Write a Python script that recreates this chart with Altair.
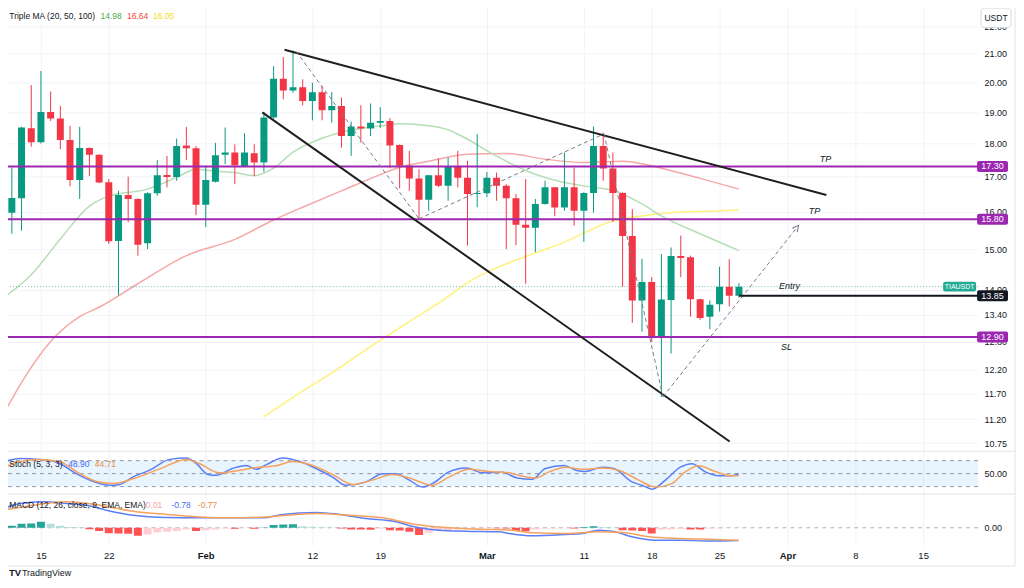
import altair as alt
import pandas as pd

# ---------------- daily candles TIA/USDT (1D), from 2024-01-11 ----------------
candle_start = "2024-01-11"
opens = [16.31, 15.98, 16.38, 18.48, 18.04, 19.00, 18.79, 18.11, 16.90, 17.86, 17.65, 16.84, 15.22, 16.47, 16.36, 15.16, 16.52, 17.05, 16.99, 17.94, 17.85,
         16.20, 16.85, 17.65, 17.72, 17.30, 17.70, 17.42, 18.82, 20.12, 19.72, 19.83, 19.36, 19.66, 19.06, 19.20, 18.23, 18.53, 18.47, 18.65, 18.71, 17.95, 17.32, 16.95, 16.34, 17.04, 16.74, 17.29, 16.97, 16.50,
         16.52, 16.97, 16.74, 16.38, 15.65, 15.57, 16.22, 16.69, 16.12, 16.69, 16.03, 16.53, 17.92, 17.24, 16.53, 15.35, 13.74, 14.18, 12.88, 13.75, 14.83, 14.80, 13.77, 13.36, 13.65, 14.07, 13.85]
highs = [16.39, 17.27, 18.52, 19.90, 20.39, 19.68, 19.20, 18.55, 18.52, 17.88, 17.66, 16.93, 16.59, 17.00, 16.38, 16.55, 17.49, 17.62, 18.15, 18.52, 17.92,
         17.32, 18.02, 18.50, 17.97, 18.32, 17.97, 19.00, 20.56, 20.88, 21.12, 20.10, 19.98, 19.87, 19.66, 19.48, 18.69, 19.22, 19.28, 19.16, 18.80, 17.97, 17.77, 17.22, 17.05, 17.54, 17.57, 17.77, 17.47, 18.29,
         17.14, 17.12, 16.78, 16.50, 16.93, 16.36, 16.88, 16.70, 17.72, 17.27, 16.55, 18.53, 18.34, 17.72, 16.55, 16.08, 14.76, 14.30, 14.88, 15.05, 15.36, 14.84, 13.78, 13.74, 14.56, 14.75, 14.16]
lows = [15.91, 15.41, 15.49, 17.90, 18.00, 18.71, 17.82, 16.72, 16.36, 17.02, 16.81, 15.14, 13.86, 15.72, 14.84, 15.01, 16.45, 16.69, 16.88, 17.50, 15.91,
        15.59, 16.83, 17.37, 16.78, 17.28, 17.02, 17.14, 18.78, 19.42, 19.64, 19.22, 18.73, 18.73, 18.66, 17.87, 17.62, 18.03, 18.23, 18.48, 17.25, 16.66, 16.59, 15.81, 16.03, 16.70, 16.31, 16.69, 15.10, 16.13,
        16.41, 16.31, 15.01, 15.11, 14.14, 14.93, 16.20, 15.88, 16.03, 15.63, 15.20, 15.98, 16.88, 15.72, 14.07, 13.22, 13.02, 12.79, 11.64, 12.54, 14.30, 13.36, 13.29, 13.08, 13.48, 13.60, 13.81]
closes = [15.98, 16.39, 18.50, 18.04, 19.00, 18.79, 18.11, 16.90, 17.86, 17.65, 16.83, 15.21, 16.47, 16.36, 15.12, 16.52, 17.04, 16.99, 17.92, 17.85, 16.20,
          16.90, 17.64, 17.72, 17.34, 17.72, 17.42, 18.82, 20.12, 19.72, 19.83, 19.36, 19.66, 19.06, 19.20, 18.23, 18.53, 18.47, 18.65, 18.71, 17.94, 17.32, 16.95, 16.34, 17.04, 16.74, 17.29, 16.97, 16.50, 16.53,
          16.97, 16.74, 16.38, 15.65, 15.57, 16.22, 16.69, 16.12, 16.69, 16.03, 16.53, 17.92, 17.24, 16.53, 15.35, 13.74, 14.18, 12.88, 13.76, 14.83, 14.78, 13.77, 13.33, 13.64, 14.07, 13.85, 14.07]

# ---------------- Triple MA (20, 50, 100) ----------------
ma20_dates = ["2024-01-11", "2024-01-14", "2024-01-17", "2024-01-20", "2024-01-22", "2024-01-26", "2024-01-29", "2024-01-31", "2024-02-02", "2024-02-04",
              "2024-02-06", "2024-02-08", "2024-02-10", "2024-02-13", "2024-02-15", "2024-02-19", "2024-02-21", "2024-02-24", "2024-02-26", "2024-02-28",
              "2024-03-02", "2024-03-06", "2024-03-09", "2024-03-12", "2024-03-14", "2024-03-17", "2024-03-19", "2024-03-23", "2024-03-27"]
ma20_vals = [13.78, 14.36, 15.27, 16.16, 16.44, 16.64, 16.98, 17.22, 17.16, 17.12, 17.03, 17.25, 17.73, 18.16, 18.35, 18.55, 18.62, 18.56, 18.43, 18.13,
             17.61, 17.07, 16.83, 16.69, 16.61, 16.22, 15.89, 15.41, 14.97]
ma50_dates = ["2024-01-11", "2024-01-13", "2024-01-16", "2024-01-19", "2024-01-21", "2024-01-25", "2024-01-30", "2024-02-04", "2024-02-08", "2024-02-11",
              "2024-02-15", "2024-02-19", "2024-02-21", "2024-02-24", "2024-02-28", "2024-03-03", "2024-03-07", "2024-03-11", "2024-03-15", "2024-03-19",
              "2024-03-23", "2024-03-27"]
ma50_vals = [11.25, 11.93, 12.80, 13.36, 13.58, 14.14, 14.84, 15.26, 15.78, 16.13, 16.59, 17.06, 17.28, 17.46, 17.67, 17.69, 17.52, 17.42, 17.46, 17.25,
             16.95, 16.64]
ma100_dates = ["2024-02-07", "2024-02-10", "2024-02-14", "2024-02-18", "2024-02-22", "2024-02-26", "2024-02-28", "2024-03-02", "2024-03-06", "2024-03-09",
               "2024-03-12", "2024-03-14", "2024-03-17", "2024-03-20", "2024-03-24", "2024-03-27"]
ma100_vals = [11.25, 11.63, 12.13, 12.69, 13.25, 13.83, 14.17, 14.53, 14.91, 15.19, 15.55, 15.75, 15.89, 15.98, 16.02, 16.05]
ma_legend_vals = ["14.98", "16.64", "16.05"]

# ---------------- Stoch (5, 3, 3) ----------------
stoch_k_dates = ["2024-01-11T03:00", "2024-01-12T20:00", "2024-01-14T22:00", "2024-01-17T00:00", "2024-01-18T08:00", "2024-01-20T01:00", "2024-01-22T02:00",
                 "2024-01-23T03:00", "2024-01-24T11:00", "2024-01-26T05:00", "2024-01-28T07:00", "2024-01-30T00:00", "2024-01-31T01:00", "2024-02-01T05:00",
                 "2024-02-02T02:00", "2024-02-03T18:00", "2024-02-05T04:00", "2024-02-06T05:00", "2024-02-07T06:00", "2024-02-08T23:00", "2024-02-10T16:00",
                 "2024-02-12T09:00", "2024-02-14T02:00", "2024-02-15T11:00", "2024-02-17T13:00", "2024-02-19T06:00", "2024-02-20T15:00", "2024-02-22T00:00",
                 "2024-02-23T09:00", "2024-02-24T09:00", "2024-02-26T02:00", "2024-02-27T20:00", "2024-02-29T13:00", "2024-03-02T14:00", "2024-03-04T03:00",
                 "2024-03-05T16:00", "2024-03-07T01:00", "2024-03-08T23:00", "2024-03-10T04:00", "2024-03-11T04:00", "2024-03-12T21:00", "2024-03-14T02:00",
                 "2024-03-15T23:00", "2024-03-17T00:00", "2024-03-18T01:00", "2024-03-19T10:00", "2024-03-20T23:00", "2024-03-22T04:00", "2024-03-23T13:00",
                 "2024-03-24T22:00", "2024-03-26T06:00", "2024-03-26T23:00"]
stoch_k_vals = [77, 85, 83, 73, 54, 35, 23, 25, 42, 58, 83, 86, 73, 48, 46, 62, 69, 60, 71, 86, 78, 62, 42, 23, 31, 50, 50, 35, 19, 27, 54, 63, 52, 53, 40, 37,
                62, 69, 58, 55, 65, 62, 31, 23, 14, 35, 65, 73, 54, 45, 45, 49]
stoch_d_dates = ["2024-01-11T03:00", "2024-01-12T20:00", "2024-01-14T22:00", "2024-01-17T00:00", "2024-01-19T00:00", "2024-01-20T18:00", "2024-01-22T11:00",
                 "2024-01-24T12:00", "2024-01-27T06:00", "2024-01-30T00:00", "2024-01-31T09:00", "2024-02-02T10:00", "2024-02-04T12:00", "2024-02-06T13:00",
                 "2024-02-08T06:00", "2024-02-09T23:00", "2024-02-11T17:00", "2024-02-14T02:00", "2024-02-16T04:00", "2024-02-18T05:00", "2024-02-20T06:00",
                 "2024-02-22T00:00", "2024-02-24T09:00", "2024-02-26T02:00", "2024-02-28T04:00", "2024-03-01T05:00", "2024-03-03T07:00", "2024-03-03T23:00",
                 "2024-03-06T01:00", "2024-03-07T10:00", "2024-03-09T03:00", "2024-03-10T20:00", "2024-03-12T21:00", "2024-03-14T14:00", "2024-03-16T16:00",
                 "2024-03-18T09:00", "2024-03-20T02:00", "2024-03-21T11:00", "2024-03-22T20:00", "2024-03-24T13:00", "2024-03-26T06:00", "2024-03-26T23:00"]
stoch_d_vals = [63, 78, 83, 77, 50, 32, 27, 38, 61, 83, 73, 52, 58, 65, 68, 78, 71, 48, 25, 35, 48, 40, 23, 42, 60, 55, 52, 48, 40, 54, 65, 60, 63, 58, 35,
                19, 27, 54, 68, 55, 45, 45]
stoch_levels = [80, 50, 20]
stoch_legend_vals = ["48.90", "44.71"]

# ---------------- MACD (12, 26, close, 9) ----------------
macd_dates = ["2024-01-11T03:00", "2024-01-12T20:00", "2024-01-15T05:00", "2024-01-17T16:00", "2024-01-19T17:00", "2024-01-21T18:00", "2024-01-24T12:00",
              "2024-01-27T23:00", "2024-01-31T09:00", "2024-02-03T19:00", "2024-02-06T21:00", "2024-02-08T23:00", "2024-02-12T09:00", "2024-02-14T19:00",
              "2024-02-17T13:00", "2024-02-20T06:00", "2024-02-23T00:00", "2024-02-25T02:00", "2024-02-27T20:00", "2024-03-02T06:00", "2024-03-03T07:00",
              "2024-03-05T16:00", "2024-03-09T03:00", "2024-03-10T20:00", "2024-03-12T13:00", "2024-03-14T06:00", "2024-03-15T23:00", "2024-03-18T09:00",
              "2024-03-21T03:00", "2024-03-23T21:00", "2024-03-26T23:00"]
macd_vals = [1.18, 1.49, 1.60, 1.49, 1.39, 1.08, 0.77, 0.63, 0.61, 0.61, 0.61, 0.82, 0.94, 0.82, 0.57, 0.41, 0.00, -0.15, -0.21, -0.25, -0.35, -0.49, -0.41,
             -0.35, -0.15, -0.25, -0.55, -0.76, -0.76, -0.82, -0.78]
signal_dates = ["2024-01-11T03:00", "2024-01-14T05:00", "2024-01-17T16:00", "2024-01-21T02:00", "2024-01-24T12:00", "2024-01-27T23:00", "2024-01-31T09:00",
                "2024-02-03T19:00", "2024-02-07T06:00", "2024-02-12T09:00", "2024-02-15T19:00", "2024-02-19T06:00", "2024-02-22T16:00", "2024-02-26T02:00",
                "2024-02-29T13:00", "2024-03-03T15:00", "2024-03-05T16:00", "2024-03-09T03:00", "2024-03-12T13:00", "2024-03-14T23:00", "2024-03-17T17:00",
                "2024-03-21T03:00", "2024-03-24T13:00", "2024-03-26T23:00"]
signal_vals = [1.08, 1.39, 1.60, 1.39, 1.02, 0.82, 0.67, 0.61, 0.67, 0.88, 0.77, 0.61, 0.20, 0.00, -0.09, -0.15, -0.31, -0.35, -0.25, -0.29, -0.55, -0.66,
               -0.72, -0.77]
hist_vals = [0.10, 0.12, 0.25, 0.26, 0.37, 0.25, 0.12, 0.05, 0.03, -0.09, -0.20, -0.33, -0.35, -0.36, -0.49, -0.41, -0.29, -0.25, -0.20, -0.10, -0.20,
             -0.15, -0.10, -0.04, -0.06, -0.02, -0.06, 0.02, 0.17, 0.20, 0.21, 0.10, 0.07, 0.04, 0.02, -0.05, -0.10, -0.11, -0.12, -0.05, -0.15, -0.16, -0.25,
             -0.45, -0.30, -0.20, -0.15, -0.10, -0.05, -0.04,
             -0.02, -0.03, -0.05, -0.20, -0.21, -0.10, -0.05, -0.03, -0.02, -0.05, 0.05, 0.10, 0.04, 0.01, -0.15, -0.16, -0.20, -0.35, -0.12, -0.10, -0.08,
             -0.10, -0.11, -0.05, -0.03, -0.02, -0.01]
macd_legend_vals = ["-0.01", "-0.78", "-0.77"]

# ---------------- drawings ----------------
level_prices = [17.30, 15.80, 12.90]
entry_price = 13.85
entry_dates = ["2024-03-27", "2024-04-20T16:00"]
last_price = 14.07
trend_ids = ["upper", "upper", "lower", "lower"]
trend_dates = ["2024-02-09T03:00", "2024-04-05T00:30", "2024-02-06T20:00", "2024-03-26T01:00"]
trend_prices = [21.15, 16.47, 18.99, 10.78]
path_ids = ["a", "a", "b", "b", "c", "c", "d", "d"]
path_dates = ["2024-02-10T07:40", "2024-02-23T00:00", "2024-02-23T00:00", "2024-03-13T02:00",
              "2024-03-13T02:00", "2024-03-19T04:00", "2024-03-19T04:00", "2024-04-01T23:00"]
path_prices = [21.09, 15.81, 15.81, 18.30, 18.30, 11.64, 11.64, 15.57]
note_texts = ["TP", "TP", "Entry", "SL"]
note_dates = ["2024-04-04T22:00", "2024-04-03T19:00", "2024-04-01T05:00", "2024-03-31T22:00"]
note_prices = [17.52, 16.02, 14.09, 12.69]
tag_prices = [17.30, 15.80, 12.90, 13.85]
tag_colors = ["#9C27B0", "#9C27B0", "#9C27B0", "#131722"]
price_ticks = [22, 21, 20, 19, 18, 17, 16, 15, 14, 13.4, 12.8, 12.2, 11.7, 11.2, 10.75]
x_ticks = [(1, 15), (1, 22), (2, 1), (2, 12), (2, 19), (3, 1), (3, 11), (3, 18), (3, 25), (4, 1), (4, 8), (4, 15)]

# ---------------- styling ----------------
W = 977
H_MAIN, H_STOCH, H_MACD = 444, 42, 51
FRAME_R = W + 37           # right edge of the outer frame
GREEN, RED = "#089981", "#F23645"
PURPLE = "#9C27B0"
INK = "#131722"
GRID = "#F0F3FA"
FRAME = "#E0E3EB"
GREYL = "#787B86"
BLUE, ORANGE = "#5B7FF7", "#F6A25E"
FONT = "Liberation Sans"

XS = alt.Scale(domain=[alt.DateTime(year=2024, month=1, date=11, hours=2, minutes=7),
                       alt.DateTime(year=2024, month=4, date=20, hours=16)], nice=False, padding=0)
tick_dt = [alt.DateTime(year=2024, month=m, date=d) for m, d in x_ticks]
AX_GRID = alt.Axis(values=tick_dt, labels=False, ticks=False, domain=False, grid=True,
                   gridColor=GRID, title=None)
AX_BOTTOM = alt.Axis(values=tick_dt, ticks=False, domain=False, grid=True, gridColor=GRID, title=None,
                     labelExpr="date(datum.value) == 1 ? timeFormat(datum.value, '%b') : '' + date(datum.value)",
                     labelFontWeight={"condition": {"test": "date(datum.value) == 1", "value": "bold"}, "value": "normal"},
                     labelPadding=5, labelFontSize=9.5, labelColor=INK, labelOverlap=False, labelFlush=False)

YS = alt.Scale(type="log", domain=[10.61, 22.74], nice=False, zero=False)
AY_MAIN = alt.Axis(orient="right", values=price_ticks, format=".2f", title=None, ticks=False, domain=False,
                   grid=True, gridColor=GRID, labelPadding=6, labelFontSize=9, labelColor=INK, labelOverlap=False,
                   labelFlush=False)
SS = alt.Scale(domain=[3.8, 100.8], nice=False, zero=False)
AY_STOCH = alt.Axis(orient="right", values=[50], format=".2f", title=None, ticks=False, domain=False,
                    grid=False, labelPadding=6, labelFontSize=9, labelColor=INK)
MS = alt.Scale(domain=[-1.09, 2.04], nice=False, zero=False)
AY_MACD = alt.Axis(orient="right", values=[0], format=".2f", title=None, ticks=False, domain=False,
                   grid=False, labelPadding=6, labelFontSize=9, labelColor=INK)


def XM(f):
    return alt.X(f, type="temporal", scale=XS, axis=AX_GRID)


def XB(f):
    return alt.X(f, type="temporal", scale=XS, axis=AX_BOTTOM)


def YM(f):
    return alt.Y(f, type="quantitative", scale=YS, axis=AY_MAIN)


def YSt(f):
    return alt.Y(f, type="quantitative", scale=SS, axis=AY_STOCH)


def YMa(f):
    return alt.Y(f, type="quantitative", scale=MS, axis=AY_MACD)


def series(dates, vals):
    return pd.DataFrame({"t": pd.to_datetime(dates), "v": vals})


ONE = pd.DataFrame({"k": [0]})


def label(text, x, y, color, size=8.5, **kw):
    return alt.Chart(ONE).mark_text(text=text, align="left", baseline="middle", fontSize=size,
                                    color=color, **kw).encode(x=alt.value(x), y=alt.value(y))


def hline(y, x0=0, x1=FRAME_R):
    return alt.Chart(ONE).mark_rule(color=FRAME, strokeWidth=1).encode(
        x=alt.value(x0), x2=alt.value(x1), y=alt.value(y))


def vline(x, y0, y1):
    return alt.Chart(ONE).mark_rule(color=FRAME, strokeWidth=1).encode(
        x=alt.value(x), y=alt.value(y0), y2=alt.value(y1))


# ---------------- main pane ----------------
candles = pd.DataFrame({
    "date": pd.date_range(candle_start, periods=len(opens), freq="D"),
    "open": opens, "high": highs, "low": lows, "close": closes,
})
candles["top"] = candles[["open", "close"]].max(axis=1)
candles["bot"] = candles[["open", "close"]].min(axis=1)
updown = alt.condition("datum.close >= datum.open", alt.value(GREEN), alt.value(RED))

ma_layers = [
    alt.Chart(series(d, v)).mark_line(color=c, strokeWidth=1.5, interpolate="monotone", clip=True)
    .encode(x=XM("t"), y=YM("v"))
    for d, v, c in [(ma100_dates, ma100_vals, "#FFF27A"), (ma50_dates, ma50_vals, "#F6A7A7"),
                    (ma20_dates, ma20_vals, "#B5DDB6")]
]

cur_line = alt.Chart(pd.DataFrame({"p": [last_price]})).mark_rule(
    color=GREEN, strokeDash=[1, 2], strokeWidth=1, opacity=0.6).encode(y=YM("p"))

wicks = alt.Chart(candles).mark_rule(strokeWidth=1, clip=True).encode(
    x=XM("date"), y=YM("low"), y2="high", color=updown)
bodies = alt.Chart(candles).mark_bar(size=7, clip=True).encode(
    x=XM("date"), y=YM("top"), y2="bot", color=updown)

levels = alt.Chart(pd.DataFrame({"p": level_prices})).mark_rule(color=PURPLE, strokeWidth=2).encode(y=YM("p"))

trend_df = pd.DataFrame({"id": trend_ids, "t": pd.to_datetime(trend_dates), "p": trend_prices})
trends = alt.Chart(trend_df).mark_line(color="#1E1E1E", strokeWidth=2, clip=True).encode(
    x=XM("t"), y=YM("p"), detail="id:N")
path_df = pd.DataFrame({"id": path_ids, "t": pd.to_datetime(path_dates), "p": path_prices})
paths = alt.Chart(path_df).mark_line(color=GREYL, strokeWidth=1, strokeDash=[4, 3], clip=True).encode(
    x=XM("t"), y=YM("p"), detail="id:N")
arrow = alt.Chart(path_df.tail(1)).mark_point(
    shape="M -1 1 L 0 -1 L 1 1", filled=False, color=GREYL, strokeWidth=1, size=40, angle=38, opacity=1
).encode(x=XM("t"), y=YM("p"))

entry_df = pd.DataFrame({"t0": [pd.Timestamp(entry_dates[0])], "t1": [pd.Timestamp(entry_dates[1])], "p": [entry_price]})
entry = alt.Chart(entry_df).mark_rule(color=INK, strokeWidth=2).encode(x=XM("t0"), x2="t1", y=YM("p"))

note_df = pd.DataFrame({"txt": note_texts, "t": pd.to_datetime(note_dates), "p": note_prices})
notes = alt.Chart(note_df).mark_text(fontSize=9, fontStyle="italic", color=INK, align="center",
                                     baseline="middle").encode(x=XM("t"), y=YM("p"), text="txt:N")

tag_df = pd.DataFrame({"p": tag_prices, "c": tag_colors})
tag_df["lab"] = tag_df["p"].map(lambda v: f"{v:.2f}")
tag_df["hi"] = tag_df["p"] * 1.0095
tag_df["lo"] = tag_df["p"] / 1.0095
tag_box = alt.Chart(tag_df).mark_rect(cornerRadius=2).encode(
    x=alt.value(W - 1), x2=alt.value(W + 30), y=YM("hi"), y2="lo", color=alt.Color("c:N", scale=None))
tag_txt = alt.Chart(tag_df).mark_text(color="white", fontSize=9, align="center", baseline="middle").encode(
    x=alt.value(W + 14.5), y=YM("p"), text="lab:N")

sym_df = pd.DataFrame({"p": [last_price], "hi": [last_price * 1.0085], "lo": [last_price / 1.0085]})
sym_box = alt.Chart(sym_df).mark_rect(cornerRadius=2, color="#22AB94").encode(
    x=alt.value(W - 35), x2=alt.value(W - 2), y=YM("hi"), y2="lo")
sym_txt = alt.Chart(sym_df).mark_text(text="TIAUSDT", color="white", fontSize=7, align="center",
                                      baseline="middle").encode(x=alt.value(W - 18.5), y=YM("p"))

usdt_box = alt.Chart(ONE).mark_rect(fill="white", stroke="#D6D9E0", strokeWidth=1, cornerRadius=3).encode(
    x=alt.value(W + 3), x2=alt.value(W + 33), y=alt.value(0.5), y2=alt.value(20))
usdt_txt = alt.Chart(ONE).mark_text(text="USDT", fontSize=8.5, color=INK, align="center",
                                    baseline="middle").encode(x=alt.value(W + 18), y=alt.value(10))

main_legend = [
    label("Triple MA (20, 50, 100)", 6.3, 8, INK),
    label(ma_legend_vals[0], 97.7, 8, "#4CAF50"),
    label(ma_legend_vals[1], 124.3, 8, "#F44336"),
    label(ma_legend_vals[2], 150.3, 8, "#F2DC1D"),
]

main = alt.layer(
    *ma_layers, cur_line, wicks, bodies, levels, trends, paths, arrow, entry, notes,
    tag_box, tag_txt, sym_box, sym_txt, usdt_box, usdt_txt, *main_legend,
    hline(H_MAIN + 0.5), vline(FRAME_R, 0, H_MAIN + 1),
).properties(width=W, height=H_MAIN)

# ---------------- stochastic pane ----------------
band = alt.Chart(pd.DataFrame({"hi": [stoch_levels[0]], "lo": [stoch_levels[2]]})).mark_rect(
    color="#2196F3", opacity=0.1).encode(y=YSt("hi"), y2="lo")
stoch_rules = alt.Chart(pd.DataFrame({"v": stoch_levels})).mark_rule(
    color=GREYL, strokeDash=[4, 4], strokeWidth=1, opacity=0.8).encode(y=YSt("v"))
k_line = alt.Chart(series(stoch_k_dates, stoch_k_vals)).mark_line(
    color=BLUE, strokeWidth=1.5, interpolate="monotone", clip=True).encode(x=XM("t"), y=YSt("v"))
d_line = alt.Chart(series(stoch_d_dates, stoch_d_vals)).mark_line(
    color=ORANGE, strokeWidth=1.5, interpolate="monotone", clip=True).encode(x=XM("t"), y=YSt("v"))
stoch = alt.layer(
    band, stoch_rules, k_line, d_line,
    label("Stoch (5, 3, 3)", 6.3, 12, INK),
    label(stoch_legend_vals[0], 65.3, 12, "#4A6CF5"),
    label(stoch_legend_vals[1], 92, 12, "#F28A3C"),
    hline(H_STOCH + 0.5), vline(FRAME_R, 0, H_STOCH + 1),
).properties(width=W, height=H_STOCH)

# ---------------- MACD pane ----------------
hist_colors = []
prev = None
for v in hist_vals:
    if v >= 0:
        hist_colors.append("#26A69A" if prev is None or v >= prev else "#B2DFDB")
    else:
        hist_colors.append("#FF5252" if prev is None or v <= prev else "#FFCDD2")
    prev = v
hist_df = pd.DataFrame({
    "t": pd.date_range(candle_start, periods=len(hist_vals), freq="D"),
    "v": hist_vals, "z": 0.0, "c": hist_colors,
})
zero_rule = alt.Chart(pd.DataFrame({"v": [0.0]})).mark_rule(
    color=GREYL, strokeDash=[4, 4], strokeWidth=1, opacity=0.6).encode(y=YMa("v"))
hist = alt.Chart(hist_df).mark_bar(size=8, clip=True).encode(
    x=XB("t"), y=YMa("v"), y2="z", color=alt.Color("c:N", scale=None))
macd_line = alt.Chart(series(macd_dates, macd_vals)).mark_line(
    color=BLUE, strokeWidth=1.5, interpolate="monotone", clip=True).encode(x=XB("t"), y=YMa("v"))
sig_line = alt.Chart(series(signal_dates, signal_vals)).mark_line(
    color=ORANGE, strokeWidth=1.5, interpolate="monotone", clip=True).encode(x=XB("t"), y=YMa("v"))
macd = alt.layer(
    zero_rule, hist, macd_line, sig_line,
    label("MACD (12, 26, close, 9, EMA, EMA)", 6.3, 10.7, INK),
    label(macd_legend_vals[0], 140.3, 10.7, "#F7A1A9"),
    label(macd_legend_vals[1], 168.7, 10.7, "#4A6CF5"),
    label(macd_legend_vals[2], 195.3, 10.7, "#F28A3C"),
    hline(71.5), vline(FRAME_R, 0, 71.5),
    label("TV", 6, 79, INK, size=9.5, fontWeight="bold"),
    label("TradingView", 19, 79, INK, size=9),
).properties(width=W, height=H_MACD)

chart = alt.vconcat(main, stoch, macd, spacing=1, bounds="flush").resolve_scale(
    x="independent", y="independent"
).properties(padding={"left": -7, "top": -2, "right": 0, "bottom": 0}).configure(
    font=FONT).configure_view(stroke="transparent")

chart.save("out.html", embed_options={"renderer": "svg", "actions": False})
